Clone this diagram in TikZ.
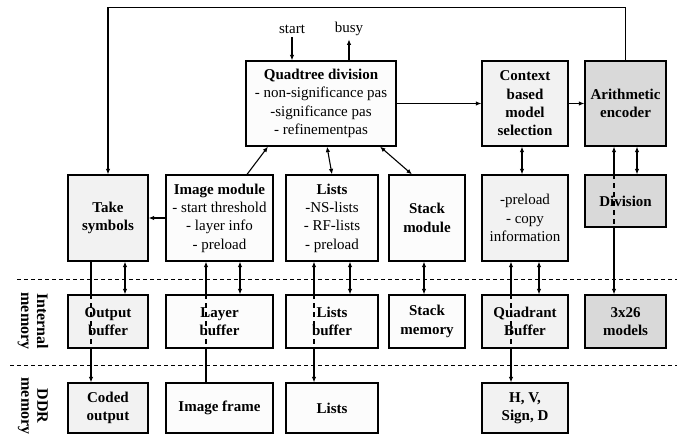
\documentclass[tikz,border=0pt]{standalone}
\usepackage{fontspec}
\setmainfont{Liberation Serif}
\usepackage{xcolor}
\definecolor{lightbox}{HTML}{F2F2F2}
\definecolor{whitebox}{HTML}{FCFCFC}
\definecolor{darkbox}{HTML}{D9D9D9}
\usetikzlibrary{arrows.meta,backgrounds}

\begin{document}
\begin{tikzpicture}[x=1pt,y=-1pt,
    blk/.style={draw=black,line width=1.2pt,fill=whitebox,align=center,
      inner sep=1pt,font=\fontsize{15}{18.3}\selectfont},
    lblk/.style={blk,fill=lightbox},
    dblk/.style={blk,fill=darkbox},
    link/.style={line width=1.1pt,-{Latex[length=5.5pt,width=4.5pt]}},
    dlink/.style={line width=1.1pt,{Latex[length=5.5pt,width=4.5pt]}-{Latex[length=5.5pt,width=4.5pt]}},
    inbox/.style={line width=1.1pt,dash pattern=on 5pt off 4pt},
    sep/.style={line width=.8pt,dash pattern=on 4pt off 3pt},
    side/.style={rotate=-90,align=center,font=\fontsize{16}{16}\selectfont\bfseries}]
    \useasboundingbox (0,0) rectangle (677,445);
    % top row
    \node[blk,minimum width=150,minimum height=85] (quad) at (321,103.5)
      {\textbf{Quadtree division}\\- non-significance pas\\-significance pas\\- refinementpas};
    \node[lblk,minimum width=86,minimum height=85] (ctx) at (525,103.5)
      {\textbf{Context}\\\textbf{based}\\\textbf{model}\\\textbf{selection}};
    \node[dblk,minimum width=81,minimum height=85] (arith) at (625.5,103.5)
      {\textbf{Arithmetic}\\\textbf{encoder}};
    \node[font=\fontsize{15}{18}\selectfont] (start) at (292,29) {start};
    \node[font=\fontsize{15}{18}\selectfont] (busy) at (349,29) {busy};
    % module row
    \node[lblk,minimum width=80,minimum height=86] (symb) at (108,218)
      {\textbf{Take}\\\textbf{symbols}};
    \node[blk,minimum width=107,minimum height=86] (imgmod) at (219.5,218)
      {\textbf{Image module}\\- start threshold\\- layer info\\- preload};
    \node[blk,minimum width=92,minimum height=86] (lists) at (332,218)
      {\textbf{Lists}\\-NS-lists\\- RF-lists\\- preload};
    \node[blk,minimum width=76,minimum height=86] (stack) at (427,218)
      {\textbf{Stack}\\\textbf{module}};
    \node[lblk,minimum width=86,minimum height=86] (preld) at (525,218)
      {-preload\\- copy\\information};
    \node[dblk,minimum width=81,minimum height=52] (divi) at (625.5,201)
      {\textbf{Division}};
    % internal memory row
    \node[lblk,minimum width=80,minimum height=53] (outbuf) at (108,321.5)
      {\textbf{Output}\\\textbf{buffer}};
    \node[blk,minimum width=107,minimum height=53] (laybuf) at (219.5,321.5)
      {\textbf{Layer}\\\textbf{buffer}};
    \node[blk,minimum width=92,minimum height=53] (lstbuf) at (332,321.5)
      {\textbf{Lists}\\\textbf{buffer}};
    \node[blk,minimum width=76,minimum height=53] (stkmem) at (427,321.5)
      {\textbf{Stack}\\\textbf{memory}};
    \node[lblk,minimum width=86,minimum height=53] (qbuf) at (525,321.5)
      {\textbf{Quadrant}\\\textbf{Buffer}};
    \node[dblk,minimum width=81,minimum height=53] (models) at (625.5,321.5)
      {\textbf{3x26}\\\textbf{models}};
    % DDR row
    \node[lblk,minimum width=80,minimum height=50] (coded) at (108,408)
      {\textbf{Coded}\\\textbf{output}};
    \node[blk,minimum width=107,minimum height=50] (frame) at (219.5,408)
      {\textbf{Image frame}};
    \node[blk,minimum width=92,minimum height=50] (lstddr) at (332,408)
      {\textbf{Lists}};
    \node[lblk,minimum width=86,minimum height=50] (hvsd) at (525,408)
      {\textbf{H, V,}\\\textbf{Sign, D}};
    % memory separators
    \draw[sep] (17,279) -- (677,279);
    \draw[sep] (10,365) -- (677,365);
    \node[side] (intlbl) at (33,321) {Internal\\memory};
    \node[side] (ddrlbl) at (33,406) {DDR\\memory};
    % lines running through boxes
    \begin{pgfonlayer}{background}
      \draw[link] ([xshift=-17pt]symb.south) -- ([xshift=-17pt]coded.north);
      \draw[link] ([xshift=-13.5pt]frame.north) -- ([xshift=-13.5pt]imgmod.south);
      \draw[dlink] ([xshift=-18pt]lists.south) -- ([xshift=-18pt]lstddr.north);
      \draw[dlink] ([xshift=-14pt]preld.south) -- ([xshift=-14pt]hvsd.north);
      \draw[dlink] ([xshift=-11.5pt]arith.south) -- ([xshift=-11.5pt]models.north);
    \end{pgfonlayer}
    \draw[inbox] ([xshift=-17pt]outbuf.north) -- ([xshift=-17pt]outbuf.south);
    \draw[inbox] ([xshift=-13.5pt]laybuf.north) -- ([xshift=-13.5pt]laybuf.south);
    \draw[inbox] ([xshift=-18pt]lstbuf.north) -- ([xshift=-18pt]lstbuf.south);
    \draw[inbox] ([xshift=-14pt]qbuf.north) -- ([xshift=-14pt]qbuf.south);
    \draw[inbox] ([xshift=-11.5pt]divi.north) -- ([xshift=-11.5pt]divi.south);
    % module to memory links
    \draw[dlink] ([xshift=17pt]symb.south) -- ([xshift=17pt]outbuf.north);
    \draw[dlink] ([xshift=20.5pt]imgmod.south) -- ([xshift=20.5pt]laybuf.north);
    \draw[dlink] ([xshift=18pt]lists.south) -- ([xshift=18pt]lstbuf.north);
    \draw[dlink] ([xshift=-3pt]stack.south) -- ([xshift=-3pt]stkmem.north);
    \draw[dlink] ([xshift=14pt]preld.south) -- ([xshift=14pt]qbuf.north);
    \draw[dlink] ([xshift=11.5pt]arith.south) -- ([xshift=11.5pt]divi.north);
    % control and data flow
    \draw[link] (start.south) -- ([xshift=-29pt]quad.north);
    \draw[link] ([xshift=28pt]quad.north) -- (busy.south);
    \draw[link] (quad.east) -- (ctx.west);
    \draw[link] (ctx.east) -- (arith.west);
    \draw[dlink] ([xshift=-3pt]ctx.south) -- ([xshift=-3pt]preld.north);
    \draw[link] ([xshift=27.5pt]imgmod.north) -- ([xshift=-53pt]quad.south);
    \draw[dlink] ([xshift=6pt]quad.south) -- (lists.north);
    \draw[dlink] ([xshift=59pt]quad.south) -- ([xshift=-15pt]stack.north);
    \draw[link] (imgmod.west) -- (symb.east);
    \draw[link] (arith.north) -- ++(0,-53) -| (symb.north);
  \end{tikzpicture}
\end{document}
